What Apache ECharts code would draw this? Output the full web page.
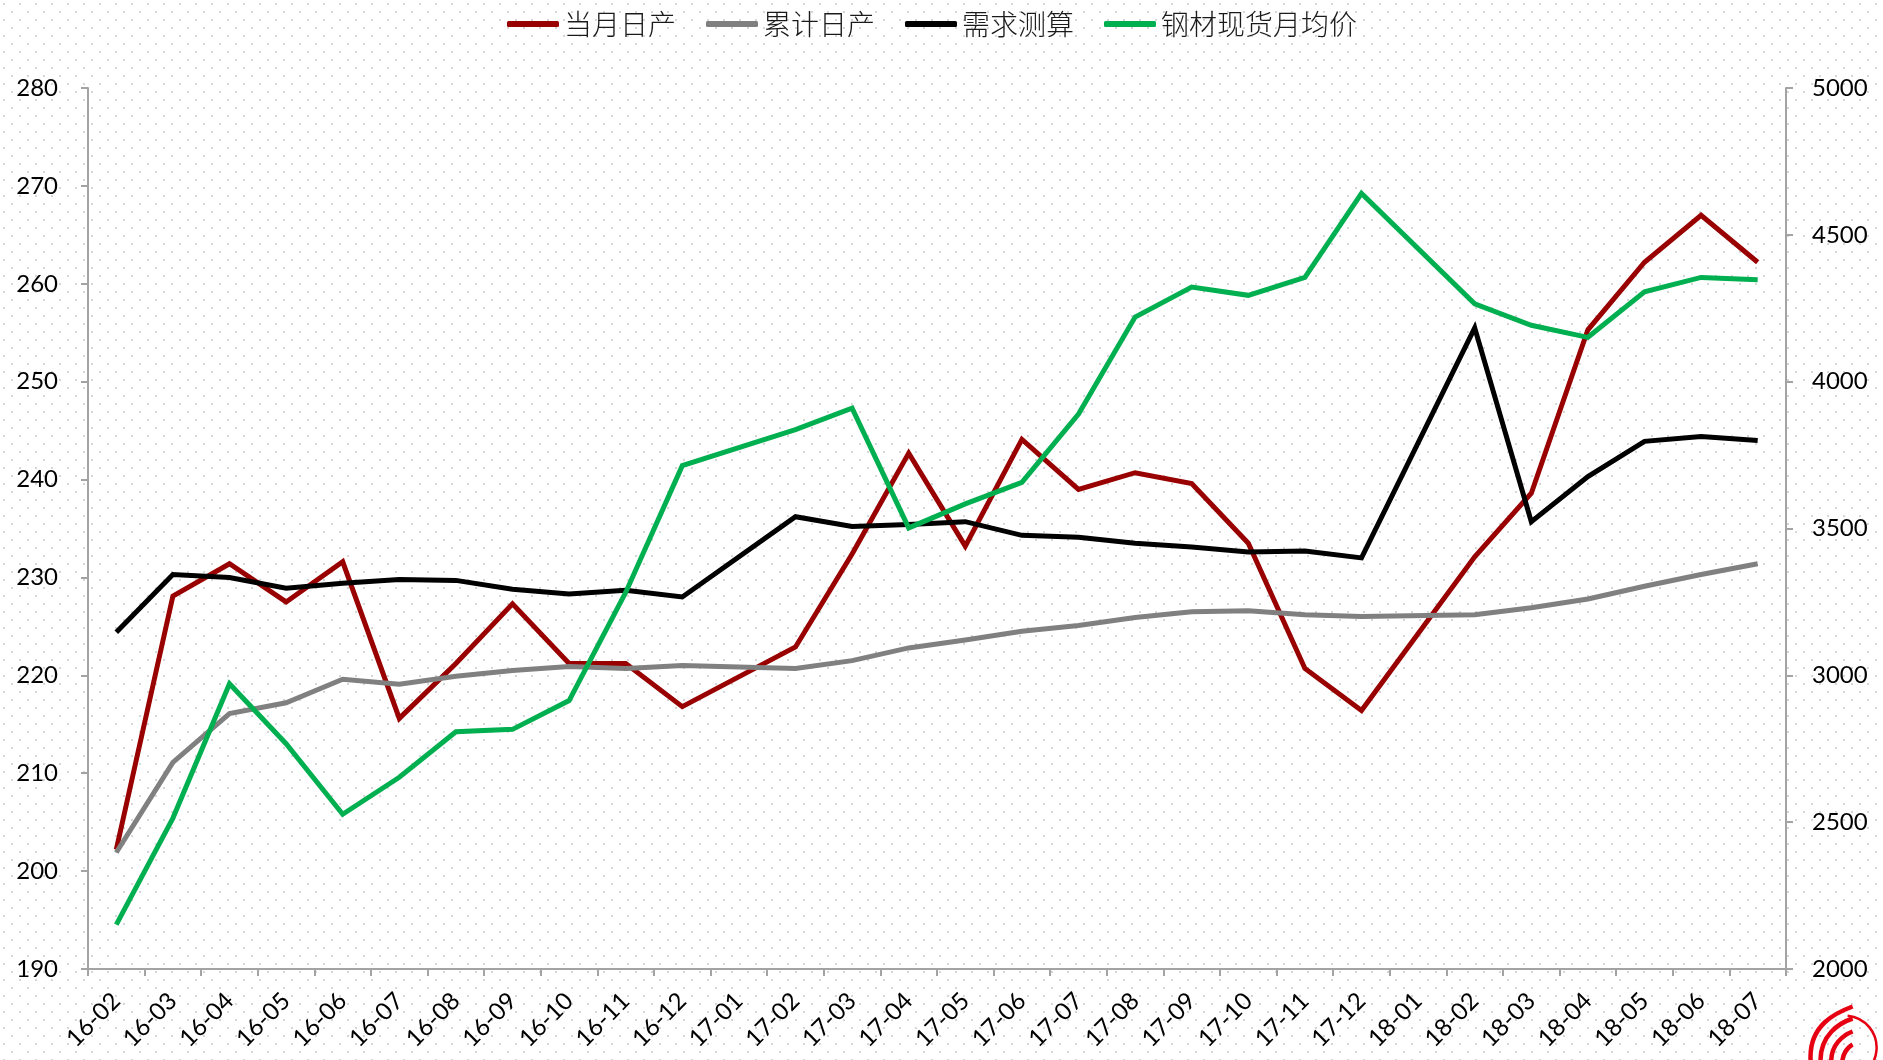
<!DOCTYPE html>
<html>
<head>
<meta charset="utf-8">
<script src="https://cdn.jsdelivr.net/npm/echarts@6/dist/echarts.min.js"></script>
<style>
  html, body { margin: 0; padding: 0; width: 1883px; height: 1060px; overflow: hidden; }
  body {
    background-color: #ffffff;
    background-image: url("data:image/svg+xml;utf8,<svg xmlns='http://www.w3.org/2000/svg' width='16' height='16'><rect x='3' y='3' width='2' height='2' fill='%23d6d6d6'/><rect x='11' y='11' width='2' height='2' fill='%23d6d6d6'/></svg>");
    background-repeat: repeat;
  }
  #chart { width: 1883px; height: 1060px; }
</style>
</head>
<body>
<div id="chart"></div>
<script>
// ---- data ----
const categories = ['16-02','16-03','16-04','16-05','16-06','16-07','16-08','16-09','16-10','16-11','16-12',
  '17-01','17-02','17-03','17-04','17-05','17-06','17-07','17-08','17-09','17-10','17-11','17-12',
  '18-01','18-02','18-03','18-04','18-05','18-06','18-07'];

const seriesNames = ['当月日产', '累计日产', '需求测算', '钢材现货月均价'];

// 当月日产 (left axis)
const monthlyDaily = [202.2, 228.1, 231.4, 227.5, 231.6, 215.6, 221.2, 227.3, 221.2, 221.2, 216.8,
  null, 222.9, 232.4, 242.7, 233.2, 244.1, 239.0, 240.7, 239.6, 233.5, 220.7, 216.4,
  null, 232.1, 238.6, 255.3, 262.2, 267.0, 262.2];

// 累计日产 (left axis)
const cumulativeDaily = [201.9, 211.1, 216.1, 217.2, 219.6, 219.1, 219.9, 220.5, 220.9, 220.7, 221.0,
  null, 220.7, 221.5, 222.8, 223.6, 224.5, 225.1, 225.9, 226.5, 226.6, 226.2, 226.0,
  null, 226.2, 226.9, 227.8, 229.1, 230.3, 231.4];

// 需求测算 (left axis)
const demandEstimate = [224.4, 230.3, 230.0, 228.9, 229.4, 229.8, 229.7, 228.8, 228.3, 228.7, 228.0,
  null, 236.2, 235.2, 235.4, 235.7, 234.3, 234.1, 233.5, 233.1, 232.6, 232.7, 232.0,
  null, 255.5, 235.7, 240.3, 243.9, 244.4, 244.0];

// 钢材现货月均价 (right axis)
const steelPrice = [2151, 2514, 2971, 2767, 2527, 2653, 2808, 2816, 2914, 3282, 3714,
  null, 3837, 3910, 3502, 3584, 3657, 3890, 4220, 4322, 4294, 4355, 4641,
  null, 4265, 4192, 4151, 4306, 4355, 4347];

const leftTicks = { min: 190, max: 280, interval: 10 };
const rightTicks = { min: 2000, max: 5000, interval: 500 };

const colors = ['#990000', '#808080', '#000000', '#00B050'];

// ---- chart ----
const chart = echarts.init(document.getElementById('chart'), null, { renderer: 'canvas' });
const axisLineStyle = { color: '#a3a3a3', width: 2 };
const numFont = 'Lato, "Noto Sans", sans-serif';

function lineSeries(name, data, color, yIdx) {
  return {
    name: name, type: 'line', data: data, yAxisIndex: yIdx,
    symbol: 'none', connectNulls: true, smooth: false,
    lineStyle: { color: color, width: 5, join: 'miter' },
    itemStyle: { color: color },
    z: 2
  };
}

const option = {
  backgroundColor: 'transparent',
  animation: false,
  color: colors,
  legend: {
    data: seriesNames,
    top: 5,
    left: 502,
    icon: 'roundRect',
    itemWidth: 52,
    itemHeight: 6,
    itemGap: 30,
    textStyle: { fontSize: 28, color: '#1a1a1a', fontFamily: '"Noto Sans CJK SC", sans-serif', fontWeight: 300 }
  },
  grid: { left: 88, right: 97, top: 88, bottom: 91, containLabel: false },
  xAxis: {
    type: 'category',
    data: categories,
    boundaryGap: true,
    axisLine: { show: true, lineStyle: axisLineStyle },
    axisTick: { show: true, interval: 0, length: 7, lineStyle: axisLineStyle },
    axisLabel: { interval: 0, rotate: 45, fontSize: 24, color: '#000', fontFamily: numFont, margin: 28 },
    splitLine: { show: false }
  },
  yAxis: [
    {
      type: 'value', position: 'left',
      min: leftTicks.min, max: leftTicks.max, interval: leftTicks.interval,
      axisLine: { show: true, lineStyle: axisLineStyle },
      axisTick: { show: true, length: 7, lineStyle: axisLineStyle },
      axisLabel: { fontSize: 24, color: '#000', fontFamily: numFont, margin: 30 },
      splitLine: { show: false }
    },
    {
      type: 'value', position: 'right',
      min: rightTicks.min, max: rightTicks.max, interval: rightTicks.interval,
      axisLine: { show: true, lineStyle: axisLineStyle },
      axisTick: { show: true, length: 7, lineStyle: axisLineStyle },
      axisLabel: { fontSize: 24, color: '#000', fontFamily: numFont, margin: 26, formatter: function (v) { return String(v); } },
      splitLine: { show: false }
    }
  ],
  series: [
    lineSeries(seriesNames[0], monthlyDaily, colors[0], 0),
    lineSeries(seriesNames[1], cumulativeDaily, colors[1], 0),
    lineSeries(seriesNames[2], demandEstimate, colors[2], 0),
    lineSeries(seriesNames[3], steelPrice, colors[3], 1)
  ],
  graphic: [
    {
      type: 'group', left: 1808, top: 1004, silent: true,
      children: [
        { type: 'arc', shape: { cx: 38, cy: 43, r: 32, startAngle: -Math.PI * 0.47, endAngle: Math.PI * 0.5, clockwise: true },
          style: { stroke: '#e60012', fill: null, lineWidth: 2.5 } },
        { type: 'bezierCurve', shape: { x1: 4, y1: 56, cpx1: 2, cpy1: 20, x2: 46, y2: 2, cpx2: 30, cpy2: 8 },
          style: { stroke: '#e60012', lineWidth: 4.5, fill: null } },
        { type: 'bezierCurve', shape: { x1: 14, y1: 60, cpx1: 12, cpy1: 30, x2: 46, y2: 14, cpx2: 34, cpy2: 18 },
          style: { stroke: '#e60012', lineWidth: 4.5, fill: null } },
        { type: 'bezierCurve', shape: { x1: 25, y1: 62, cpx1: 22, cpy1: 40, x2: 46, y2: 27, cpx2: 38, cpy2: 30 },
          style: { stroke: '#e60012', lineWidth: 4.5, fill: null } },
        { type: 'bezierCurve', shape: { x1: 36, y1: 62, cpx1: 34, cpy1: 50, x2: 46, y2: 40, cpx2: 42, cpy2: 42 },
          style: { stroke: '#e60012', lineWidth: 4.5, fill: null } }
      ]
    }
  ]
};
chart.setOption(option);
</script>
</body>
</html>
